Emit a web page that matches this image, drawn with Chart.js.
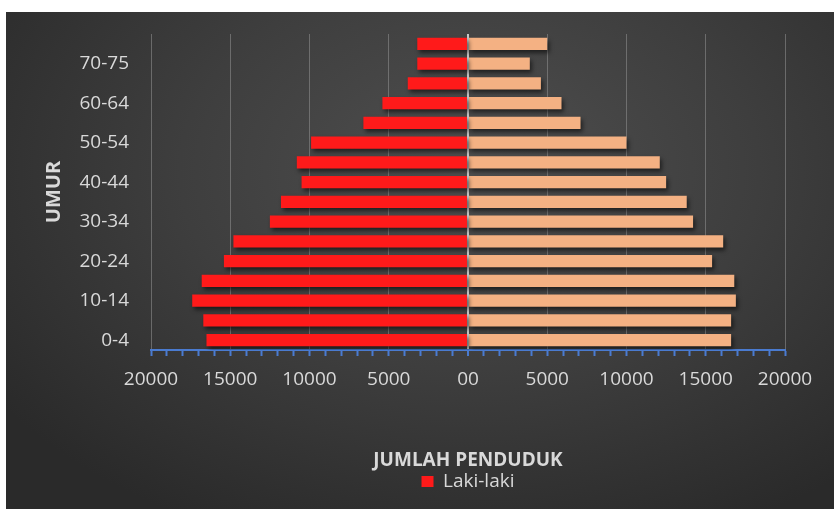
<!DOCTYPE html>
<html>
<head>
<meta charset="utf-8">
<script src="https://cdn.jsdelivr.net/npm/chart.js@4"></script>
<style>
  body { margin: 0; background: #fff; }
  #wrap {
    position: absolute; left: 6px; top: 12px; width: 828px; height: 497px;
    background: radial-gradient(ellipse 70% 80% at 56% 32%, #4f4f4f 0%, #3e3e3e 50%, #2a2a2a 100%);
  }
  canvas { display: block; }
</style>
</head>
<body>
<div id="wrap"><canvas id="myChart" width="828" height="497"></canvas></div>
<script>
// kelompok umur, dari bawah ke atas
var categories = ['0-4', '5-9', '10-14', '15-19', '20-24', '25-29', '30-34', '35-39',
  '40-44', '45-49', '50-54', '55-59', '60-64', '65-69', '70-75', '75+'];
var lakiLaki = [16500, 16700, 17400, 16800, 15400, 14800, 12500, 11800,
  10500, 10800, 9900, 6600, 5400, 3800, 3200, 3200];
var perempuan = [16600, 16600, 16900, 16800, 15400, 16100, 14200, 13800,
  12500, 12100, 10000, 7100, 5900, 4600, 3900, 5000];
var xMin = -20000, xMax = 20000, xStep = 1000, labelEvery = 5000;

var textColor = '#d9d9d9';

// bayangan tipis di bawah batang, mirip efek Excel
var barShadow = {
  id: 'barShadow',
  beforeDatasetsDraw: function(chart) {
    var c = chart.ctx;
    c.save();
    c.shadowColor = 'rgba(0,0,0,0.55)';
    c.shadowBlur = 4;
    c.shadowOffsetX = 2;
    c.shadowOffsetY = 3;
  },
  afterDatasetsDraw: function(chart) {
    chart.ctx.restore();
  }
};

var ctx = document.getElementById('myChart').getContext('2d');
var chart = new Chart(ctx, {
  type: 'bar',
  data: {
    labels: categories,
    datasets: [{
      label: 'Laki-laki',
      data: lakiLaki.map(function(v) { return -v; }),
      backgroundColor: '#ff1a1a',
      borderWidth: 0,
      barPercentage: 0.62,
      categoryPercentage: 1
    }, {
      label: 'Perempuan',
      data: perempuan,
      backgroundColor: '#f4b183',
      borderWidth: 0,
      barPercentage: 0.62,
      categoryPercentage: 1
    }]
  },
  plugins: [barShadow],
  options: {
    indexAxis: 'y',
    responsive: false,
    animation: false,
    layout: { padding: { left: 0, right: 49, top: 22, bottom: 8 } },
    scales: {
      x: {
        stacked: true,
        min: xMin,
        max: xMax,
        afterFit: function(scale) { scale.height = 120; },
        ticks: {
          stepSize: xStep,
          autoSkip: false,
          maxRotation: 0,
          padding: 12,
          color: textColor,
          font: { family: 'Open Sans', size: 19 },
          callback: function(v) {
            if (v % labelEvery !== 0) return '';
            return v === 0 ? '00' : String(Math.abs(v));
          }
        },
        grid: {
          drawTicks: true,
          tickLength: 6,
          tickColor: '#4a7bd0',
          tickWidth: 2,
          color: function(c) {
            if (!c.tick) return 'transparent';
            if (c.tick.value === 0) return '#c9c9c9';
            return c.tick.value % labelEvery === 0 ? 'rgba(140,140,140,0.6)' : 'transparent';
          },
          lineWidth: function(c) {
            return c.tick && c.tick.value === 0 ? 2 : 1;
          }
        },
        border: { color: '#4a7bd0', width: 2 },
        title: {
          display: true,
          text: 'JUMLAH PENDUDUK',
          color: textColor,
          font: { family: 'Open Sans', size: 19, weight: 'bold', lineHeight: 1 },
          padding: { top: 0, bottom: 0 }
        }
      },
      y: {
        stacked: true,
        reverse: true,
        afterFit: function(scale) { scale.width = 145; },
        grid: {
          display: true,
          drawOnChartArea: false,
          drawTicks: true,
          tickLength: 20,
          tickColor: 'transparent',
          color: 'transparent'
        },
        border: { display: false },
        ticks: {
          autoSkip: false,
          padding: 2,
          color: textColor,
          font: { family: 'Open Sans', size: 19 },
          callback: function(v, i) { return i % 2 === 0 ? categories[i] : ''; }
        },
        title: {
          display: true,
          text: 'UMUR',
          color: textColor,
          font: { family: 'Open Sans', size: 20, weight: 'bold' },
          padding: { top: 36, bottom: 0 }
        }
      }
    },
    plugins: {
      tooltip: { enabled: false },
      legend: {
        position: 'bottom',
        fullSize: false,
        labels: {
          color: textColor,
          font: { family: 'Open Sans', size: 19 },
          boxWidth: 12,
          boxHeight: 11,
          padding: 2,
          filter: function(item) { return item.datasetIndex === 0; }
        }
      }
    }
  }
});
</script>
</body>
</html>
